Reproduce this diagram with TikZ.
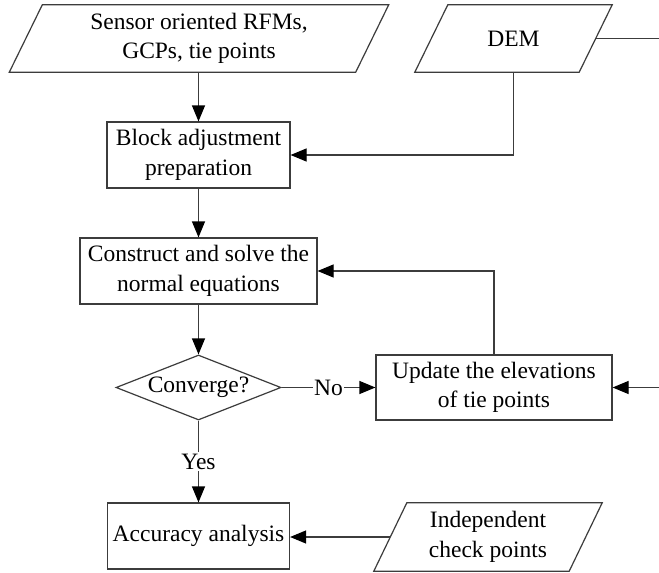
\documentclass[tikz,border=0pt]{standalone}
\usepackage{fontspec}
\setmainfont{Liberation Serif}
\usetikzlibrary{arrows.meta,shapes.geometric,calc}

\definecolor{ink}{RGB}{60,60,60}

\tikzset{
  x=1pt, y=-1pt,
  every node/.style={font=\fontsize{23.5}{29.5}\selectfont, align=center, text=black},
  boxnode/.style={draw=ink, line width=1.2pt, rectangle, inner sep=0pt},
  pgbody/.style={rectangle, inner sep=0pt},
  decision/.style={draw=ink, line width=1.2pt, diamond, inner sep=0pt, aspect=2.5},
  link/.style={draw=ink, line width=1.2pt},
  arr/.style={link, -{Triangle[length=16pt,width=13pt,color=black]}},
  tag/.style={fill=white, inner sep=1.5pt},
}

% parallelogram drawn around a rectangular body node
\newcommand{\pgramaround}[2]{%
  \draw[ink, line width=1.2pt]
    ($(#1.north west)+(#2,0)$) -- ($(#1.north east)+(#2,0)$) --
    ($(#1.south east)+(-#2,0)$) -- ($(#1.south west)+(-#2,0)$) -- cycle;}

\begin{document}
\begin{tikzpicture}
  \useasboundingbox[fill=white] (0,0) rectangle (659,573);

  % input data
  \node[pgbody, minimum width=346pt, minimum height=67pt] (src) at (199,38.5)
    {Sensor oriented RFMs,\\GCPs, tie points};
  \pgramaround{src}{16.5}
  \node[pgbody, minimum width=164pt, minimum height=67pt] (dem) at (513.5,38.5) {DEM};
  \pgramaround{dem}{16.5}
  \node[pgbody, minimum width=195pt, minimum height=68pt] (chk) at (488,537)
    {Independent\\check points};
  \pgramaround{chk}{16.5}

  % processing steps
  \node[boxnode, minimum width=183pt, minimum height=66pt] (blk) at (198.5,155)
    {Block adjustment\\preparation};
  \node[boxnode, minimum width=237pt, minimum height=66pt] (con) at (198.5,271)
    {Construct and solve the\\normal equations};
  \node[decision, minimum width=165pt, minimum height=65pt] (dia) at (198.5,387.5) {};
  \node at (dia.center) {Converge?};
  \node[boxnode, minimum width=236pt, minimum height=65pt] (upd) at (494,387.5)
    {Update the elevations\\of tie points};
  \node[boxnode, minimum width=182pt, minimum height=66pt] (acc) at (198.5,536)
    {Accuracy analysis};

  \coordinate (rim) at (661,0);

  % connectors
  \draw[arr] (src.south -| blk.north) -- (blk.north);
  \draw[arr] (dem.south) |- (blk.east);
  \draw[arr] (blk.south) -- (con.north);
  \draw[arr] (con.south) -- (dia.north);
  \draw[arr] (dia.east) -- node[tag] {No} (upd.west);
  \draw[arr] (upd.north) |- (con.east);
  \draw[arr] (dem.east) -- (dem.east -| rim) |- (upd.east);
  \draw[arr] (dia.south) -- node[tag] {Yes} (acc.north);
  \draw[arr] (chk.west) -- (chk.west -| acc.east);
\end{tikzpicture}
\end{document}
